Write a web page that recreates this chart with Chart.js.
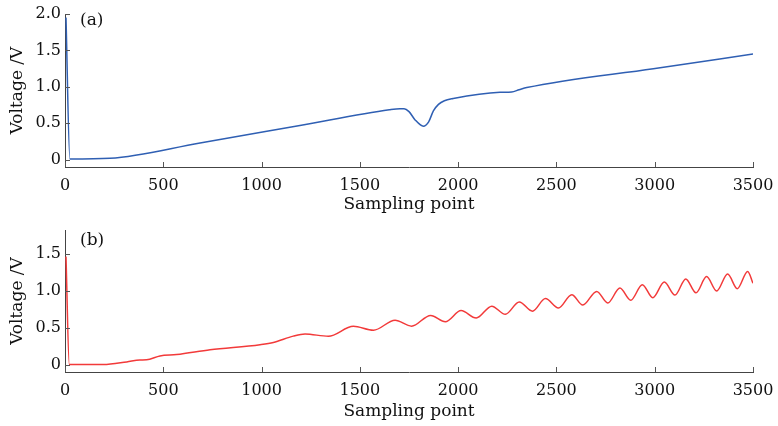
<!DOCTYPE html>
<html>
<head>
<meta charset="utf-8">
<script src="https://cdn.jsdelivr.net/npm/chart.js@4"></script>
<style>
  body { margin:0; background:#fff; }
  #wrap { position:relative; width:778px; height:426px; }
  canvas { position:absolute; left:0; }
</style>
</head>
<body>
<div id="wrap">
  <canvas id="chartA" width="778" height="216" style="top:0"></canvas>
  <canvas id="chartB" width="778" height="210" style="top:216px"></canvas>
</div>
<script>
// sampling points / voltages
const xA = [5, 25, 229, 687, 1195, 1650, 1704, 1725, 1750, 1780, 1823, 1850, 1874, 1900, 1930, 1975, 2213, 2272, 2310, 2349, 2993, 3500];
const vA = [1.95, 0.01, 0.02, 0.23, 0.47, 0.685, 0.70, 0.70, 0.66, 0.55, 0.46, 0.52, 0.67, 0.76, 0.81, 0.84, 0.925, 0.93, 0.96, 0.99, 1.25, 1.45];

const xB = [5, 22, 195, 314, 381, 415, 483, 568, 738, 992, 1060, 1161, 1221, 1340, 1467, 1569, 1679, 1763, 1860, 1935,
  2015, 2092, 2171, 2240, 2311, 2378, 2444, 2510, 2578, 2634, 2705, 2761, 2823, 2878, 2937, 2990, 3049, 3103, 3158, 3210,
  3264, 3315, 3371, 3420, 3473, 3500];
const vB = [1.46, 0.0, 0.0, 0.036, 0.063, 0.065, 0.117, 0.135, 0.20, 0.27, 0.30, 0.385, 0.414, 0.383, 0.518, 0.464, 0.60, 0.52, 0.665, 0.58,
  0.73, 0.63, 0.79, 0.68, 0.847, 0.722, 0.893, 0.766, 0.946, 0.806, 0.99, 0.833, 1.036, 0.87, 1.08, 0.905, 1.117, 0.94, 1.158, 0.97,
  1.19, 0.995, 1.225, 1.027, 1.26, 1.10];

const xTicks = [0, 500, 1000, 1500, 2000, 2500, 3000, 3500];
const yTicksA = [0, 0.5, 1.0, 1.5, 2.0];
const yTicksB = [0, 0.5, 1.0, 1.5];

const FONT = 'DejaVu Serif';

const innerTicks = {
  id: 'innerTicks',
  afterDraw(chart, args, opts) {
    const {ctx, chartArea, scales: {x, y}} = chart;
    ctx.save();
    ctx.strokeStyle = '#555';
    ctx.lineWidth = 1;
    ctx.beginPath();
    x.ticks.forEach((t, i) => {
      const px = Math.round(x.getPixelForTick(i)) + 0.5;
      ctx.moveTo(px, chartArea.bottom);
      ctx.lineTo(px, chartArea.bottom - 5);
    });
    y.ticks.forEach((t, i) => {
      const py = Math.round(y.getPixelForTick(i)) + 0.5;
      ctx.moveTo(chartArea.left, py);
      ctx.lineTo(chartArea.left + 5, py);
    });
    ctx.stroke();
    ctx.fillStyle = '#111';
    ctx.font = '17px "' + FONT + '"';
    ctx.textBaseline = 'middle';
    ctx.fillText(opts.label, chartArea.left + 15, chartArea.top + opts.dy);
    ctx.restore();
  }
};

function makeChart(id, xs, vs, color, yMin, yMax, yTicks, label, dy, xHeight, padBottom) {
  return new Chart(document.getElementById(id), {
    type: 'line',
    data: {
      datasets: [{
        data: xs.map((x, i) => ({x: x, y: vs[i]})),
        borderColor: color,
        borderWidth: 1.5,
        pointRadius: 0,
        cubicInterpolationMode: 'monotone',
        fill: false
      }]
    },
    options: {
      responsive: false,
      animation: false,
      layout: { padding: { top: 14, right: 25, bottom: padBottom, left: 0 } },
      plugins: {
        legend: { display: false },
        tooltip: { enabled: false },
        innerTicks: { label: label, dy: dy }
      },
      scales: {
        x: {
          type: 'linear',
          min: 0,
          max: 3500,
          afterBuildTicks: s => { s.ticks = xTicks.map(v => ({value: v})); },
          afterFit: s => { s.height = xHeight; s.paddingLeft = 0; s.paddingRight = 0; },
          grid: { drawOnChartArea: false, drawTicks: false },
          border: { color: '#444', width: 1 },
          ticks: {
            color: '#111', padding: 9, maxRotation: 0,
            font: { family: FONT, size: 16 },
            callback: v => String(v)
          },
          title: { display: true, text: 'Sampling point', color: '#111', padding: 0, font: { family: FONT, size: 17 } }
        },
        y: {
          min: yMin,
          max: yMax,
          afterBuildTicks: s => { s.ticks = yTicks.map(v => ({value: v})); },
          afterFit: s => { s.width = 65; },
          grid: { drawOnChartArea: false, drawTicks: false },
          border: { color: '#444', width: 1 },
          ticks: {
            color: '#111', padding: 4,
            font: { family: FONT, size: 16 },
            callback: v => v === 0 ? '0' : v.toFixed(1)
          },
          title: { display: true, text: 'Voltage /V', color: '#111', padding: { top: 7, bottom: 0 }, font: { family: FONT, size: 17 } }
        }
      }
    },
    plugins: [innerTicks]
  });
}

makeChart('chartA', xA, vA, '#2f5fb3', -0.1, 2.0, yTicksA, '(a)', 7, 48, 1);
makeChart('chartB', xB, vB, '#f23a3a', -0.1, 1.82, yTicksB, '(b)', 11, 50, 4);
</script>
</body>
</html>
